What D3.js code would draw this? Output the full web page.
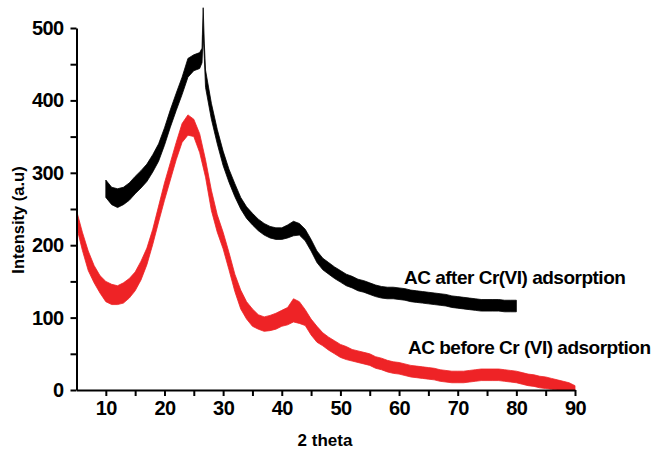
<!DOCTYPE html>
<html>
<head>
<meta charset="utf-8">
<script src="https://cdn.jsdelivr.net/npm/d3@7"></script>
<style>
  body { margin: 0; background: #fff; }
  text { font-family: "Liberation Sans", Arial, sans-serif; font-weight: bold; }
</style>
</head>
<body>
<div id="chart"></div>
<script>
// XRD readings, 2 theta (deg) vs intensity; each band = low/high edge of the noisy trace
const redTheta = [5,6,7,8,9,10,11,12,13,14,15,16,17,18,19,20,21,22,23,24,25,26,27,28,29,30,
  31,32,33,34,35,36,37,38,39,40,41,42,43,44,45,46,47,48,49,50,51,52,53,54,55,56,57,58,59,60,
  61,62,63,64,65,66,67,68,69,70,71,72,73,74,75,76,77,78,79,80,81,82,83,84,85,86,87,88,89,90];
const redHi = [248,218,192,172,158,150,146,144,148,154,163,178,196,222,254,286,314,342,368,380,374,354,318,276,242,218,
  190,160,138,122,112,104,101,103,106,110,114,126,122,111,98,88,79,73,68,63,60,56,54,52,50,46,44,41,39,38,
  36,34,33,32,31,30,28,27,26,26,26,27,28,29,29,29,29,28,27,26,24,22,21,19,18,16,14,12,10,6];
const redLo = [226,193,165,148,134,122,118,118,120,127,137,152,173,201,232,262,290,318,342,352,350,328,294,248,218,195,
  166,136,112,98,88,84,81,82,84,88,90,94,92,89,76,66,61,55,50,45,42,40,38,36,34,30,28,25,23,22,
  20,18,17,16,15,14,12,11,10,10,10,11,12,13,13,13,13,12,11,10,8,6,5,3,2,1,0,0,0,0];

const blackTheta = [10,11,12,13,14,15,16,17,18,19,20,21,22,23,24,25,26,26.4,26.6,26.8,27,28,29,30,
  31,32,33,34,35,36,37,38,39,40,41,42,43,44,45,46,47,48,49,50,51,52,53,54,55,56,57,58,59,60,
  61,62,63,64,65,66,67,68,69,70,71,72,73,74,75,76,77,78,79,80];
const blackHi = [290,280,278,280,286,295,303,312,325,340,362,387,410,432,458,463,466,472,528,478,442,396,360,330,
  305,285,266,253,244,236,230,226,224,224,228,233,230,222,208,192,182,176,170,165,160,157,153,151,148,145,143,142,142,141,
  140,138,137,136,135,134,133,132,130,129,128,127,126,125,125,125,125,124,124,124];
const blackLo = [266,256,252,256,262,271,279,288,301,316,338,363,386,408,432,441,444,452,490,458,418,374,340,310,
  287,267,250,237,228,220,214,210,208,208,210,213,214,206,192,176,166,160,154,149,144,141,137,135,132,129,127,126,126,125,
  124,122,121,120,119,118,117,116,114,113,112,111,110,109,109,109,109,108,108,108];

const xTicks = [10,20,30,40,50,60,70,80,90];
const xMinor = [15,25,35,45,55,65,75,85];
const yTicks = [0,100,200,300,400,500];
const yMinor = [50,150,250,350,450];

const seriesNames = ["AC after Cr(VI) adsorption", "AC before Cr (VI) adsorption"];

const W = 653, H = 452;
const svg = d3.select("#chart").append("svg")
    .attr("width", W)
    .attr("height", H);

const x = d3.scaleLinear().domain([5, 90]).range([76.5, 575]);
const y = d3.scaleLinear().domain([0, 500]).range([390, 28]);

// bands
const band = d3.area()
    .x(d => x(d.t))
    .y0(d => y(d.lo))
    .y1(d => y(d.hi));

const redRows = redTheta.map((t, i) => ({ t: t, lo: redLo[i], hi: redHi[i] }));
const blackRows = blackTheta.map((t, i) => ({ t: t, lo: blackLo[i], hi: blackHi[i] }));

svg.append("path")
    .datum(blackRows)
    .attr("d", band)
    .attr("fill", "#000")
    .attr("stroke", "#000")
    .attr("stroke-width", 0.8);

svg.append("path")
    .datum(redRows)
    .attr("d", band)
    .attr("fill", "#ee2326")
    .attr("stroke", "#ee2326")
    .attr("stroke-width", 0.8);

// axes
const xAxis = svg.append("g")
    .attr("transform", `translate(0, ${y(0)})`)
    .call(d3.axisBottom(x).tickValues(xTicks).tickSize(6).tickPadding(5).tickSizeOuter(0));
xAxis.append("g")
    .call(d3.axisBottom(x).tickValues(xMinor).tickSize(6).tickFormat("").tickSizeOuter(0))
    .select(".domain").remove();

const yAxis = svg.append("g")
    .attr("transform", `translate(${x(5)}, 0)`)
    .call(d3.axisLeft(y).tickValues(yTicks).tickSize(6).tickPadding(7).tickSizeOuter(0));
yAxis.append("g")
    .call(d3.axisLeft(y).tickValues(yMinor).tickSize(6).tickFormat("").tickSizeOuter(0))
    .select(".domain").remove();

svg.selectAll(".domain, .tick line")
    .attr("stroke", "#000")
    .attr("stroke-width", 2);

svg.selectAll(".tick text")
    .attr("fill", "#000")
    .style("font-size", "20px")
    .style("letter-spacing", "-0.6px");

// axis titles
svg.append("text")
    .attr("x", 325)
    .attr("y", 446)
    .attr("text-anchor", "middle")
    .style("font-size", "17px")
    .text("2 theta");

svg.append("text")
    .attr("transform", "translate(24, 220) rotate(-90)")
    .attr("text-anchor", "middle")
    .style("font-size", "16.5px")
    .text("Intensity (a.u)");

// series labels
svg.append("text")
    .attr("x", 404)
    .attr("y", 284)
    .style("font-size", "19px")
    .style("letter-spacing", "-0.5px")
    .text(seriesNames[0]);

svg.append("text")
    .attr("x", 408)
    .attr("y", 354)
    .style("font-size", "19px")
    .style("letter-spacing", "-0.5px")
    .text(seriesNames[1]);
</script>
</body>
</html>
